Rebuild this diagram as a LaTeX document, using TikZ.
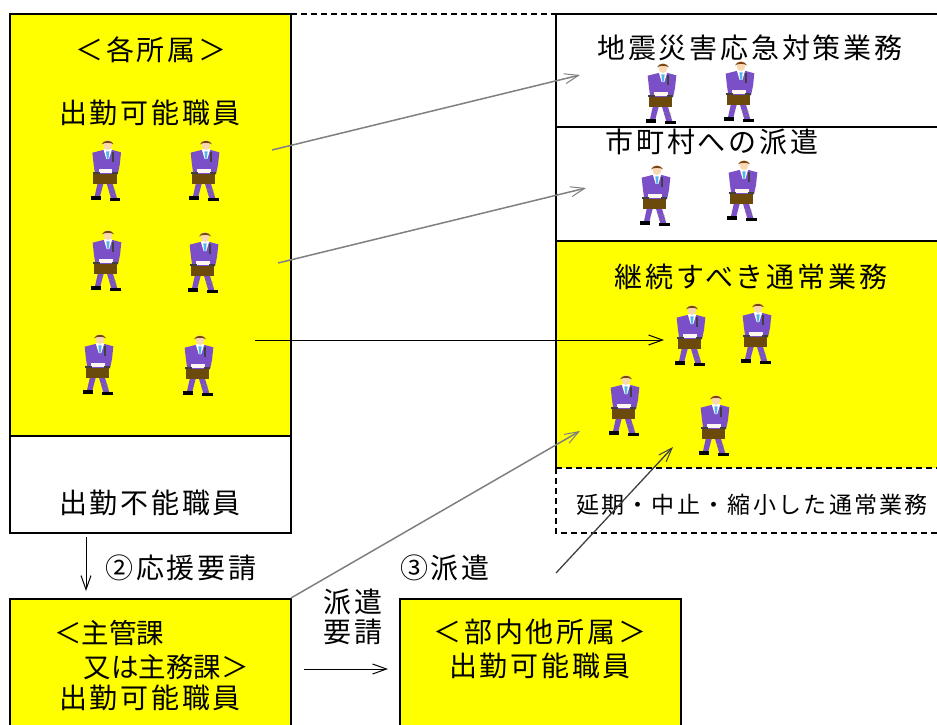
\documentclass[tikz,border=0pt]{standalone}
\usepackage{fontspec}
\usetikzlibrary{arrows.meta}
\newfontfamily\jpfont[LetterSpace=10]{Noto Sans CJK JP}
\newfontfamily\jptight{Noto Sans CJK JP}
\definecolor{pureyellow}{RGB}{255,255,0}
\definecolor{suit}{HTML}{7B4FC8}
\definecolor{hairc}{HTML}{7A4414}
\definecolor{skin}{HTML}{F8D8B0}
\definecolor{tiec}{HTML}{55B4F0}
\definecolor{casec}{HTML}{6B4A0B}
\definecolor{greyarrow}{HTML}{808080}
\definecolor{darkarrow}{HTML}{404040}
\tikzset{
  txt/.style={font=\jpfont\fontsize{28}{30}\selectfont, inner sep=0pt, text=black},
  tighttxt/.style={font=\jptight\fontsize{27.5}{30}\selectfont, inner sep=0pt, text=black},
  smalltxt/.style={font=\jpfont\fontsize{23}{25}\selectfont, inner sep=0pt, text=black},
  ybox/.style={draw=black, line width=1.3pt, fill=pureyellow},
  wbox/.style={draw=black, line width=1.3pt, fill=white},
  tip/.style={-{Straight Barb[length=14pt,width=10pt,line width=1pt]}},
  person/.pic={
    \begin{scope}[scale=.3333]
      \fill[suit] (-30,125) -- (-12,125) -- (-24,170) -- (-40,170) -- cycle;
      \fill[suit] (-4,125) -- (14,125) -- (28,172) -- (10,172) -- cycle;
      \draw[gray,line width=.5pt] (4,145) -- (24,150) (6,158) -- (26,162);
      \fill[black] (-51,166) rectangle (-20,177);
      \fill[black] (6,171) rectangle (38,180);
      \fill[suit] (-46,35) -- (-14,27) -- (14,27) -- (40,34) -- (36,72) -- (30,100) -- (-38,100) -- (-42,72) -- cycle;
      \fill[white] (-13,24) -- (13,24) -- (4,54) -- (-4,54) -- cycle;
      \fill[tiec] (-5,31) -- (5,31) -- (3,50) -- (0,56) -- (-3,50) -- cycle;
      \fill[skin] (0,12) ellipse (13 and 15);
      \fill[hairc] (-18,10) .. controls (-14,-4) and (14,-4) .. (18,10) .. controls (10,4) and (-10,4) .. (-18,10) -- cycle;
      \fill[darkgray] (12,33) rectangle (19,62);
      \fill[white!80!skin] (-27,84) rectangle (14,97);
      \fill[casec] (-43,98) rectangle (27,130);
      \fill[darkgray] (-45,94) rectangle (-24,98);
      \fill[darkgray] (12,94) rectangle (30,98);
    \end{scope}
  }
}
\begin{document}
\begin{tikzpicture}[x=1pt,y=-1pt]
\useasboundingbox (0,0) rectangle (937,725);
\clip (0,0) rectangle (937,725);
\fill[white] (0,0) rectangle (937,725);
% boxes
\draw[ybox] (10,14) rectangle (291,436);
\draw[wbox] (10,436) rectangle (291,533);
\draw[wbox] (556,14) rectangle (945,127);
\draw[wbox] (556,127) rectangle (945,241);
\fill[pureyellow] (556,241) rectangle (945,468);
\draw[black,line width=1.3pt] (945,241) -- (556,241) -- (556,468);
\draw[black,line width=1.3pt,dash pattern=on 6pt off 4pt] (291,14) -- (556,14);
\draw[black,line width=1.3pt,dash pattern=on 6pt off 4pt] (556,468) -- (937,468);
\draw[black,line width=1.3pt,dash pattern=on 6pt off 4pt] (556,468) -- (556,533) -- (937,533);
\draw[ybox] (10,599) rectangle (291,735);
\draw[ybox] (400,599) rectangle (681,735);
% people
\foreach \px/\py in {107.7/141,206/141,108/231,205/233,100/335,200/336,663/64,741/62,657/166,744/161,692/306,758/304,626/376,716/396}
  \pic at (\px,\py) {person};
% labels
\node[txt] (t1) at (151,50) {＜各所属＞};
\node[txt] (t2) at (150,113) {出勤可能職員};
\node[txt] (t3) at (150,503) {出勤不能職員};
\node[txt] (t4) at (750,48) {地震災害応急対策業務};
\node[txt] (t5) at (712,142) {市町村への派遣};
\node[txt] (t6) at (751,277) {継続すべき通常業務};
\node[smalltxt] (t7) at (752,505) {延期・中止・縮小した通常業務};
\node[txt] (t8) at (181,568) {②応援要請};
\node[txt] (t9) at (445,568) {③派遣};
\node[txt] (t10) at (353,602) {派遣};
\node[txt] (t11) at (353,632) {要請};
\node[tighttxt,anchor=west] (t12) at (54,633) {＜主管課};
\node[tighttxt] (t13) at (166,667) {又は主務課＞};
\node[txt] (t14) at (150,698) {出勤可能職員};
\node[txt] (t15) at (540,632) {＜部内他所属＞};
\node[txt] (t16) at (540,666) {出勤可能職員};
% connector ends
\coordinate (a1) at (272,150); \coordinate (b1) at (580,75);
\coordinate (a2) at (278,263); \coordinate (b2) at (586,188);
\coordinate (a3) at (255,340); \coordinate (b3) at (664,340);
\coordinate (a4) at (291,598); \coordinate (b4) at (580,431);
\coordinate (a5) at (556,573); \coordinate (b5) at (673,447);
\coordinate (a6) at (86,537);  \coordinate (b6) at (86,591);
\coordinate (a7) at (304,669); \coordinate (b7) at (388,669);
\draw[tip,greyarrow,line width=1.5pt] (a1) -- (b1);
\draw[tip,greyarrow,line width=1.5pt] (a2) -- (b2);
\draw[tip,black,line width=.7pt] (a3) -- (b3);
\draw[tip,greyarrow,line width=1.5pt] (a4) -- (b4);
\draw[tip,darkarrow,line width=1.3pt] (a5) -- (b5);
\draw[tip,black,line width=.8pt] (a6) -- (b6);
\draw[tip,black,line width=.8pt] (a7) -- (b7);
\end{tikzpicture}
\end{document}
